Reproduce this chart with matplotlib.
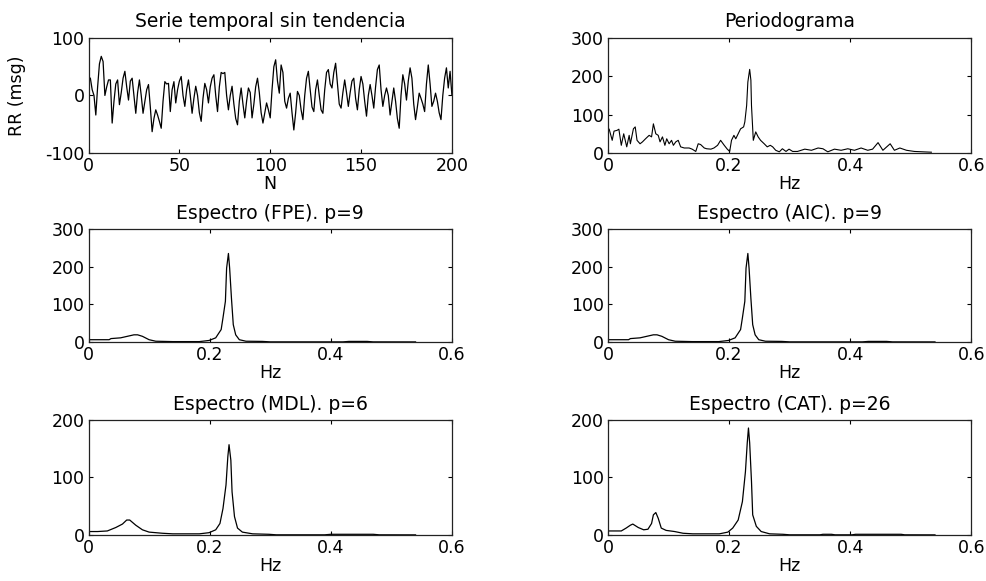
import matplotlib

matplotlib.use("Agg")
import matplotlib.pyplot as plt  # noqa: E402
import numpy as np  # noqa: E402

plt.rcParams["font.family"] = ["DejaVu Sans"]
plt.rcParams["font.size"] = 12.5
plt.rcParams["axes.titlesize"] = 13.5
plt.rcParams["axes.unicode_minus"] = False

# serie temporal sin tendencia (200 muestras)
rr = [30, 10, 0, -34, 15, 55, 68, 59, 0, 15,
      27, 27, -48, -10, 20, 27, -16, 5, 30, 42,
      15, -8, 25, 30, 0, -31, 5, 27, 0, -31,
      -10, 10, 19, -20, -63, -40, -25, -34, -45, -57,
      -10, 24, 20, 21, -28, 10, 24, -13, 10, 25,
      33, 0, -19, 10, 27, 0, -31, -5, 16, 0,
      -30, -45, -5, 21, 10, -13, 15, 30, 36, 0,
      -28, 15, 40, 38, 40, 0, -25, 0, 16, -15,
      -40, -51, -10, 13, -15, -39, -10, 13, 5, -39,
      -15, 15, 30, 5, -30, -48, -30, -13, -25, -39,
      10, 50, 62, 25, 4, 53, 40, -10, -22, -5,
      4, -30, -60, -30, 7, 0, -25, -42, 0, 30,
      42, 10, -20, -28, 10, 27, 0, -25, -31, 10,
      40, 45, 20, 13, 40, 56, 20, -15, -22, 5,
      27, 5, -19, 5, 25, 30, -5, -25, 10, 33,
      20, -10, -36, 0, 19, 0, -22, 15, 45, 53,
      10, -19, 0, 13, 0, -34, -10, 13, -10, -40,
      -57, 0, 36, 20, -8, 25, 48, 30, -15, -42,
      -20, 4, -5, -15, -28, 20, 53, 20, -19, -10,
      4, -10, -30, -42, 0, 30, 48, 13, 42, 1]
n = np.arange(1, len(rr) + 1)

# periodograma
per_f = [0.002, 0.007, 0.010, 0.015, 0.018, 0.022, 0.026, 0.031, 0.035, 0.037,
         0.042, 0.045, 0.048, 0.053, 0.057, 0.062, 0.068, 0.072, 0.075, 0.079,
         0.083, 0.086, 0.090, 0.094, 0.097, 0.101, 0.105, 0.108, 0.112, 0.116,
         0.120, 0.126, 0.134, 0.139, 0.145, 0.149, 0.153, 0.159, 0.163, 0.170,
         0.175, 0.181, 0.186, 0.192, 0.197, 0.201, 0.204, 0.208, 0.211, 0.215,
         0.219, 0.224, 0.226, 0.229, 0.231, 0.234, 0.236, 0.237, 0.240, 0.244,
         0.248, 0.252, 0.258, 0.263, 0.268, 0.272, 0.277, 0.283, 0.288, 0.294,
         0.299, 0.305, 0.313, 0.325, 0.336, 0.347, 0.355, 0.363, 0.374, 0.385,
         0.396, 0.407, 0.418, 0.429, 0.437, 0.446, 0.454, 0.466, 0.473, 0.482,
         0.493, 0.506, 0.520, 0.534]
per_p = [62, 33, 57, 59, 62, 20, 50, 16, 46, 24,
         63, 68, 33, 24, 29, 37, 46, 42, 76, 50,
         46, 29, 42, 20, 37, 24, 33, 20, 29, 33,
         16, 13, 13, 10, 4, 24, 22, 13, 11, 10,
         13, 20, 33, 20, 10, 4, 33, 46, 37, 50,
         63, 68, 81, 124, 185, 218, 190, 124, 33, 55,
         42, 33, 24, 16, 20, 16, 7, 3, 11, 4,
         10, 4, 4, 10, 7, 13, 11, 3, 10, 7,
         11, 7, 13, 7, 10, 27, 7, 24, 7, 13,
         7, 4, 3, 2]

# espectro AR (FPE y AIC, p=9)
fpe_f = [0.001, 0.034, 0.037, 0.053, 0.064, 0.075, 0.081, 0.089, 0.100, 0.111,
         0.139, 0.183, 0.199, 0.210, 0.219, 0.222, 0.226, 0.228, 0.231, 0.233,
         0.236, 0.239, 0.243, 0.249, 0.260, 0.287, 0.300, 0.420, 0.430, 0.460,
         0.470, 0.540]
fpe_p = [6, 6, 9, 11, 15, 19, 19, 15, 6, 2,
         1, 1, 4, 11, 33, 64, 108, 196, 235, 196,
         116, 46, 19, 6, 2, 1.5, 0.3, 0.3, 1.5, 1.5,
         0.3, 0.2]

# espectro AR (MDL, p=6)
mdl_f = [0.001, 0.015, 0.031, 0.045, 0.056, 0.063, 0.068, 0.078, 0.089, 0.100,
         0.122, 0.139, 0.183, 0.199, 0.210, 0.217, 0.222, 0.227, 0.230, 0.232,
         0.235, 0.237, 0.241, 0.246, 0.254, 0.271, 0.298, 0.310, 0.390, 0.400,
         0.470, 0.480, 0.540]
mdl_p = [6, 6, 7, 13, 19, 26, 26, 17, 9, 5,
         3, 2, 2, 4, 9, 20, 46, 87, 136, 157,
         130, 75, 32, 12, 5, 2, 1.2, 0.3, 0.3, 1.2,
         1.2, 0.3, 0.2]

# espectro AR (CAT, p=26)
cat_f = [0.002, 0.022, 0.030, 0.037, 0.041, 0.050, 0.059, 0.066, 0.072, 0.075,
         0.079, 0.083, 0.088, 0.096, 0.110, 0.124, 0.140, 0.184, 0.198, 0.206,
         0.215, 0.222, 0.227, 0.230, 0.232, 0.234, 0.237, 0.239, 0.245, 0.253,
         0.267, 0.289, 0.300, 0.350, 0.355, 0.369, 0.375, 0.403, 0.409, 0.484,
         0.490, 0.540]
cat_p = [7, 7, 12, 17, 19, 13, 9, 10, 20, 35,
         39, 29, 12, 8, 6, 3, 2, 2, 5, 12,
         26, 58, 110, 160, 186, 160, 93, 35, 15, 6,
         2, 1.2, 0.3, 0.3, 1.2, 1.2, 0.3, 0.3, 1.2, 1.2,
         0.3, 0.2]

spec_ticks = [0, 0.2, 0.4, 0.6]
spec_labels = ["0", "0.2", "0.4", "0.6"]


def style(ax):
    ax.tick_params(direction="in", length=3, width=0.8, top=True, right=True, pad=3)
    for s in ax.spines.values():
        s.set_linewidth(0.9)
        s.set_color("#222222")


def spectrum(ax, f, p, title, ymax):
    ax.plot(f, p, color="black", lw=0.9)
    ax.set_xlim(0, 0.6)
    ax.set_ylim(0, ymax)
    ax.set_xticks(spec_ticks)
    ax.set_xticklabels(spec_labels)
    ax.set_yticks(np.arange(0, ymax + 1, 100))
    ax.set_xlabel("Hz", labelpad=0)
    ax.set_title(title, pad=7)
    style(ax)


fig = plt.figure(figsize=(9.86, 5.81), dpi=100)
L1, L2, W = 0.0898, 0.6166, 0.3685
ax1 = fig.add_axes([L1, 0.7367, W, 0.198])
ax2 = fig.add_axes([L2, 0.7367, W, 0.198])
ax3 = fig.add_axes([L1, 0.4114, W, 0.1945])
ax4 = fig.add_axes([L2, 0.4114, W, 0.1945])
ax5 = fig.add_axes([L1, 0.0792, W, 0.198])
ax6 = fig.add_axes([L2, 0.0792, W, 0.198])

ax1.plot(n, rr, color="black", lw=0.9)
ax1.set_xlim(0, 200)
ax1.set_ylim(-100, 100)
ax1.set_xticks([0, 50, 100, 150, 200])
ax1.set_yticks([-100, 0, 100])
ax1.set_xlabel("N", labelpad=0)
ax1.set_ylabel("RR (msg)", labelpad=14)
ax1.set_title("Serie temporal sin tendencia", pad=8)
style(ax1)

ax2.plot(per_f, per_p, color="black", lw=0.8)
ax2.set_xlim(0, 0.6)
ax2.set_ylim(0, 300)
ax2.set_xticks(spec_ticks)
ax2.set_xticklabels(spec_labels)
ax2.set_yticks([0, 100, 200, 300])
ax2.set_xlabel("Hz", labelpad=0)
ax2.set_title("Periodograma", pad=8)
style(ax2)

spectrum(ax3, fpe_f, fpe_p, "Espectro (FPE). p=9", 300)
spectrum(ax4, fpe_f, fpe_p, "Espectro (AIC). p=9", 300)
spectrum(ax5, mdl_f, mdl_p, "Espectro (MDL). p=6", 200)
spectrum(ax6, cat_f, cat_p, "Espectro (CAT). p=26", 200)

fig.savefig("out.png", dpi=100)
